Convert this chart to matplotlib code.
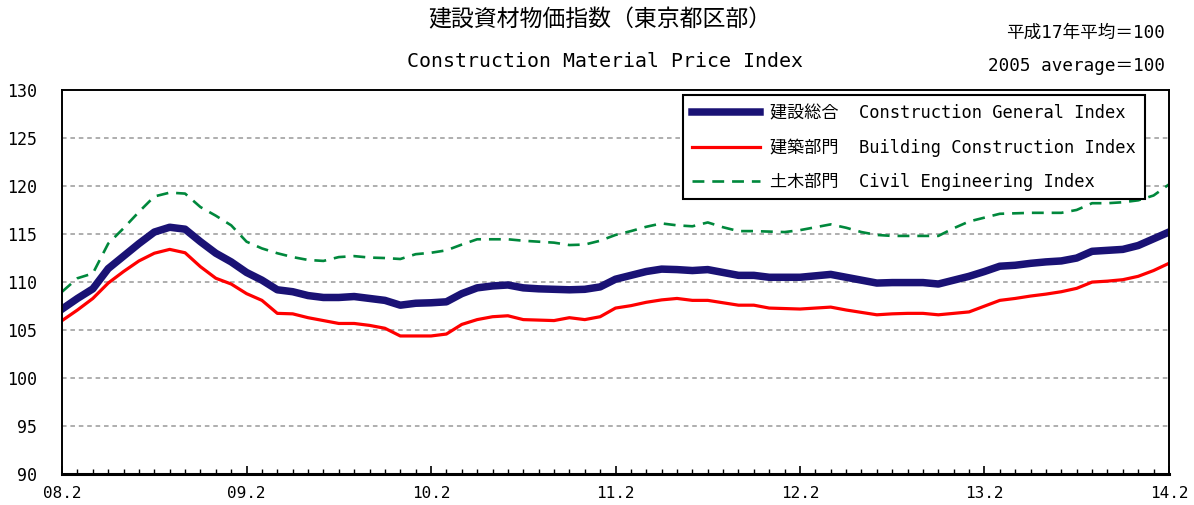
import numpy as np
import matplotlib
matplotlib.use("Agg")
import matplotlib.pyplot as plt

plt.rcParams['font.family'] = ['DejaVu Sans Mono', 'Noto Sans CJK JP']

# monthly, Feb 2008 .. Feb 2014
tick_labels = ["08.2", "09.2", "10.2", "11.2", "12.2", "13.2", "14.2"]

general = [107.2, 108.3, 109.3, 111.4, 112.7, 114.0, 115.2, 115.7, 115.5, 114.2,
           113.0, 112.1, 111.0, 110.2, 109.2, 109.0, 108.6, 108.4, 108.4, 108.5,
           108.3, 108.1, 107.6, 107.8, 107.85, 107.95, 108.8, 109.4, 109.6, 109.7,
           109.4, 109.3, 109.25, 109.2, 109.25, 109.5, 110.3, 110.7, 111.1, 111.35,
           111.3, 111.2, 111.3, 111.0, 110.7, 110.7, 110.5, 110.5, 110.5, 110.65,
           110.8, 110.5, 110.2, 109.9, 109.95, 109.95, 109.95, 109.8, 110.2, 110.6,
           111.1, 111.65, 111.75, 111.95, 112.1, 112.2, 112.5, 113.2, 113.3, 113.4,
           113.8, 114.5, 115.2]

building = [106.0, 107.1, 108.3, 109.9, 111.1, 112.2, 113.0, 113.4, 113.05, 111.6,
            110.4, 109.8, 108.8, 108.1, 106.75, 106.7, 106.3, 106.0, 105.7, 105.7,
            105.5, 105.2, 104.4, 104.4, 104.4, 104.6, 105.6, 106.1, 106.4, 106.5,
            106.1, 106.05, 106.0, 106.3, 106.1, 106.4, 107.3, 107.55, 107.9, 108.15,
            108.3, 108.1, 108.1, 107.85, 107.6, 107.6, 107.3, 107.25, 107.2, 107.3,
            107.4, 107.1, 106.85, 106.6, 106.7, 106.75, 106.75, 106.6, 106.75, 106.9,
            107.5, 108.1, 108.3, 108.55, 108.75, 109.0, 109.35, 110.0, 110.1, 110.25,
            110.6, 111.2, 111.95]

civil = [109.0, 110.4, 110.9, 114.0, 115.6, 117.3, 118.9, 119.3, 119.2, 117.8,
         116.9, 115.9, 114.2, 113.5, 113.0, 112.6, 112.3, 112.2, 112.6, 112.7,
         112.55, 112.5, 112.4, 112.9, 113.05, 113.3, 113.9, 114.45, 114.45, 114.45,
         114.3, 114.2, 114.1, 113.85, 113.9, 114.3, 114.9, 115.3, 115.75, 116.1,
         115.9, 115.8, 116.2, 115.7, 115.3, 115.3, 115.25, 115.2, 115.4, 115.7,
         116.0, 115.65, 115.2, 114.9, 114.8, 114.8, 114.8, 114.8, 115.6, 116.3,
         116.7, 117.1, 117.15, 117.2, 117.2, 117.2, 117.5, 118.2, 118.2, 118.3,
         118.5, 119.0, 120.15]

labels = ["建設総合  Construction General Index",
          "建築部門  Building Construction Index",
          "土木部門  Civil Engineering Index"]


def main():
    x = np.arange(len(general))
    fig = plt.figure(figsize=(11.94, 5.05), dpi=100)
    ax = fig.add_axes([0.052, 0.0604, 0.927, 0.762])

    ax.plot(x, general, color="#1a1275", lw=5.4, label=labels[0], solid_joinstyle="round")
    ax.plot(x, building, color="#ff0000", lw=2.3, label=labels[1])
    ax.plot(x, civil, color="#00883c", lw=1.9, ls=(0, (4.5, 3)), label=labels[2])

    ax.set_xlim(0, 72)
    ax.set_ylim(90, 130)
    ax.set_yticks(range(90, 131, 5))
    ax.set_xticks(range(0, 73, 12))
    ax.set_xticklabels(tick_labels)
    ax.set_xticks(range(0, 73), minor=True)
    for yv in range(95, 130, 5):
        ax.axhline(yv, color="#999999", lw=1.1, ls=(0, (3, 2.5)), zorder=0)

    ax.tick_params(axis="y", length=0, pad=18, labelsize=12)
    ax.tick_params(axis="x", which="major", direction="in", length=6, width=1.2,
                   pad=8, labelsize=11.5)
    ax.tick_params(axis="x", which="minor", direction="in", length=3.5, width=1)
    for s in ["left", "right", "top"]:
        ax.spines[s].set_linewidth(1.4)
    ax.spines["bottom"].set_linewidth(2.2)

    leg = ax.legend(loc="upper right", bbox_to_anchor=(0.978, 0.985), fontsize=12.3,
                    fancybox=False, framealpha=1, edgecolor="black",
                    handlelength=4.0, handletextpad=0.6, labelspacing=0.95,
                    borderpad=0.5, borderaxespad=0)
    leg.get_frame().set_linewidth(1.5)

    fig.text(0.5025, 0.960, "建設資材物価指数（東京都区部）", ha="center", va="center",
             fontsize=16.5)
    fig.text(0.507, 0.879, "Construction Material Price Index", ha="center", va="center",
             fontsize=14.3)
    fig.text(0.9757, 0.935, "平成17年平均＝100", ha="right", va="center", fontsize=12.7)
    fig.text(0.9757, 0.869, "2005 average＝100", ha="right", va="center", fontsize=12.7)

    fig.savefig("out.png", dpi=100)


if __name__ == '__main__':
    main()
